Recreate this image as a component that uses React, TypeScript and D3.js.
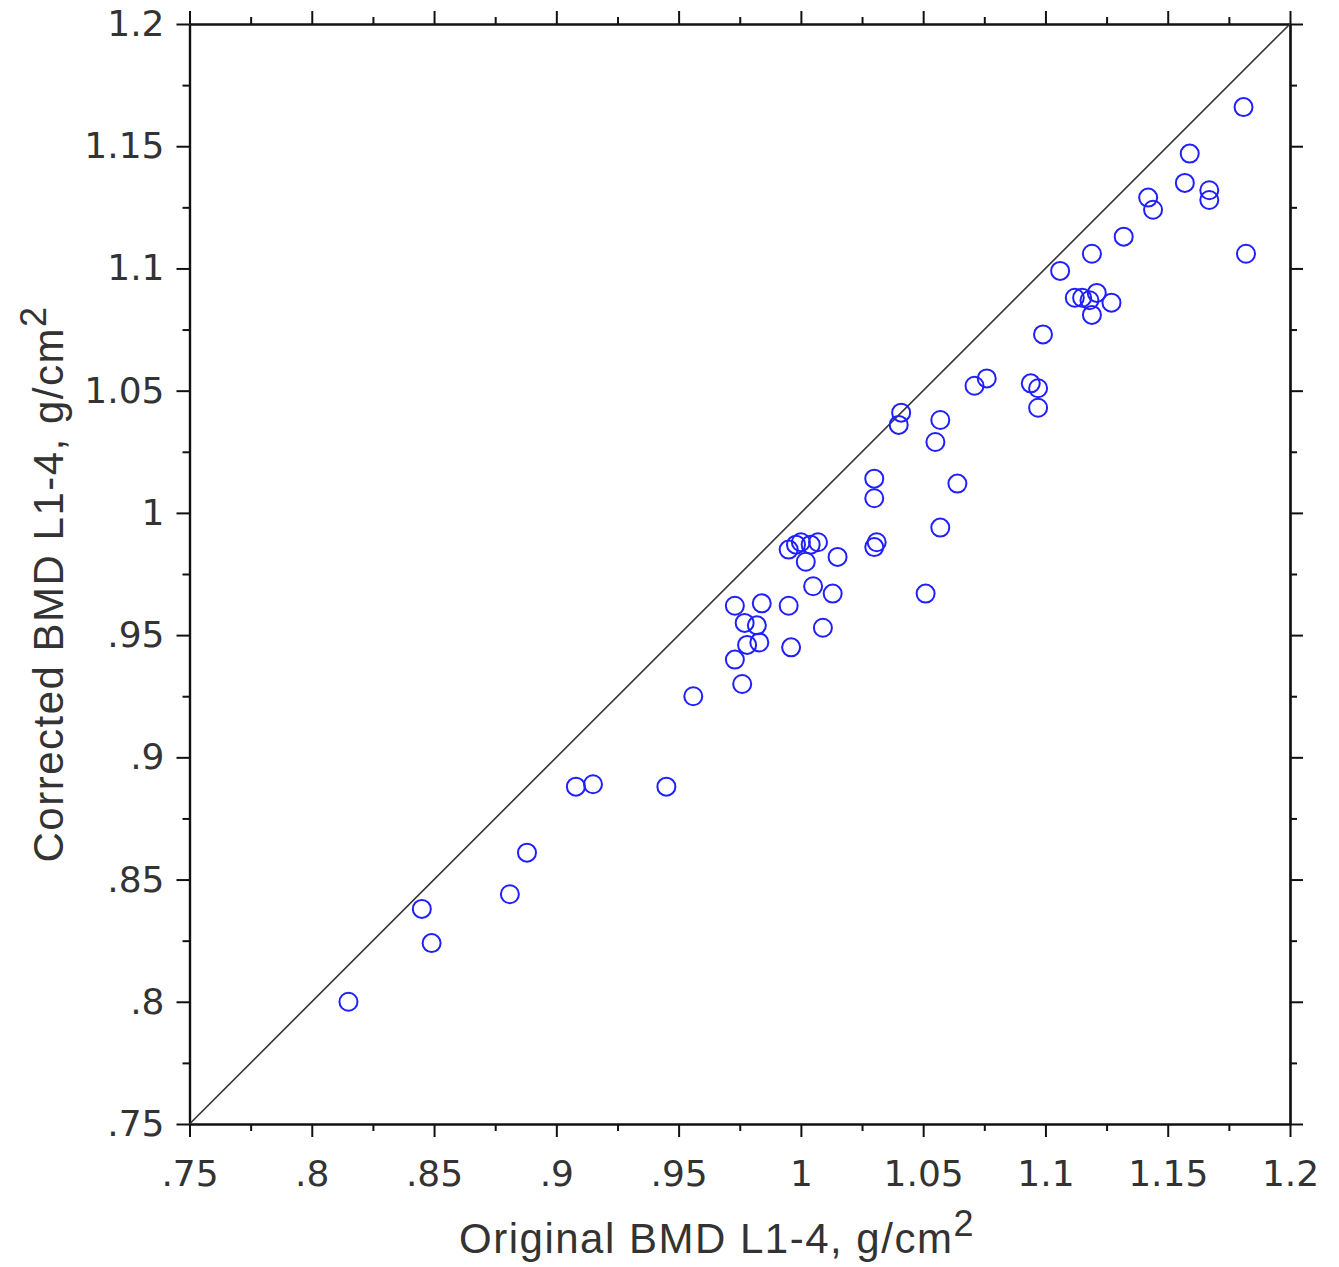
import React, { useEffect, useRef } from "react";
import * as d3 from "d3";

// original vs corrected BMD
const originalBmd = [
  0.815, 0.845, 0.849, 0.881, 0.888, 0.908, 0.915, 0.945, 0.956, 0.973,
  0.973, 0.976, 0.977, 0.978, 0.982, 0.983, 0.984, 0.995, 0.996, 0.995,
  0.998, 1.0, 1.004, 1.007, 1.002, 1.015, 1.005, 1.013, 1.009, 1.03,
  1.031, 1.03, 1.03, 1.04, 1.041, 1.051, 1.055, 1.057, 1.057, 1.064,
  1.071, 1.076, 1.094, 1.097, 1.097, 1.099, 1.106, 1.112, 1.115, 1.118,
  1.121, 1.119, 1.119, 1.127, 1.132, 1.142, 1.144, 1.157, 1.159, 1.167,
  1.167, 1.181, 1.182,
];
const correctedBmd = [
  0.8, 0.838, 0.824, 0.844, 0.861, 0.888, 0.889, 0.888, 0.925, 0.962,
  0.94, 0.93, 0.955, 0.946, 0.954, 0.947, 0.963, 0.962, 0.945, 0.985,
  0.987, 0.988, 0.987, 0.988, 0.98, 0.982, 0.97, 0.967, 0.953, 0.986,
  0.988, 1.006, 1.014, 1.036, 1.041, 0.967, 1.029, 1.038, 0.994, 1.012,
  1.052, 1.055, 1.053, 1.051, 1.043, 1.073, 1.099, 1.088, 1.088, 1.087,
  1.09, 1.081, 1.106, 1.086, 1.113, 1.129, 1.124, 1.135, 1.147, 1.132,
  1.128, 1.166, 1.106,
];

const majorTicks = [0.75, 0.8, 0.85, 0.9, 0.95, 1, 1.05, 1.1, 1.15, 1.2];
const tickLabels = [".75", ".8", ".85", ".9", ".95", "1", "1.05", "1.1", "1.15", "1.2"];
const minorTicks = [0.775, 0.825, 0.875, 0.925, 0.975, 1.025, 1.075, 1.125, 1.175];

const W = 1339;
const H = 1267;
const left = 189.5;
const right = 1290;
const top = 24;
const bottom = 1124;

export default function App() {
  const ref = useRef<SVGSVGElement>(null);

  useEffect(() => {
    const svg = d3.select(ref.current);
    svg.selectAll("*").remove();

    const x = d3.scaleLinear().domain([0.75, 1.2]).range([left, right]);
    const y = d3.scaleLinear().domain([0.75, 1.2]).range([bottom, top]);
    const fmt = (d: any) => tickLabels[majorTicks.indexOf(d)] ?? "";

    const styleAxis = (g: any) => {
      g.selectAll("path").attr("stroke", "#111").attr("stroke-width", 2.2);
      g.selectAll("line").attr("stroke", "#111").attr("stroke-width", 2);
      g.selectAll("text")
        .attr("fill", "#333")
        .style("font-family", "'DejaVu Sans', sans-serif")
        .style("font-size", "36px");
    };

    // bottom
    svg.append("g").attr("transform", `translate(0,${bottom})`)
      .call(d3.axisBottom(x).tickValues(majorTicks).tickFormat(fmt).tickSize(13).tickSizeOuter(0).tickPadding(23))
      .call(styleAxis);
    svg.append("g").attr("transform", `translate(0,${bottom})`)
      .call(d3.axisBottom(x).tickValues(minorTicks).tickFormat(() => "").tickSize(7).tickSizeOuter(0))
      .call(styleAxis);
    // left
    svg.append("g").attr("transform", `translate(${left},0)`)
      .call(d3.axisLeft(y).tickValues(majorTicks).tickFormat(fmt).tickSize(13).tickSizeOuter(0).tickPadding(12))
      .call(styleAxis);
    svg.append("g").attr("transform", `translate(${left},0)`)
      .call(d3.axisLeft(y).tickValues(minorTicks).tickFormat(() => "").tickSize(7).tickSizeOuter(0))
      .call(styleAxis);
    // top
    svg.append("g").attr("transform", `translate(0,${top})`)
      .call(d3.axisTop(x).tickValues(majorTicks).tickFormat(() => "").tickSize(13).tickSizeOuter(0))
      .call(styleAxis);
    svg.append("g").attr("transform", `translate(0,${top})`)
      .call(d3.axisTop(x).tickValues(minorTicks).tickFormat(() => "").tickSize(7).tickSizeOuter(0))
      .call(styleAxis);
    // right
    svg.append("g").attr("transform", `translate(${right},0)`)
      .call(d3.axisRight(y).tickValues(majorTicks).tickFormat(() => "").tickSize(13).tickSizeOuter(0))
      .call(styleAxis);
    svg.append("g").attr("transform", `translate(${right},0)`)
      .call(d3.axisRight(y).tickValues(minorTicks).tickFormat(() => "").tickSize(7).tickSizeOuter(0))
      .call(styleAxis);

    // identity line
    svg.append("line")
      .attr("x1", x(0.75)).attr("y1", y(0.75))
      .attr("x2", x(1.2)).attr("y2", y(1.2))
      .attr("stroke", "#333").attr("stroke-width", 1.6);

    svg.append("g")
      .selectAll("circle")
      .data(originalBmd.map((v, i) => [v, correctedBmd[i]]))
      .join("circle")
      .attr("cx", (d) => x(d[0]))
      .attr("cy", (d) => y(d[1]))
      .attr("r", 9)
      .attr("fill", "none")
      .attr("stroke", "#1f1fff")
      .attr("stroke-width", 2);

    // axis titles
    const xt = svg.append("text")
      .attr("x", 717).attr("y", 1253)
      .attr("text-anchor", "middle")
      .attr("fill", "#333")
      .style("font-family", "'Liberation Sans', Arial, sans-serif")
      .style("font-size", "42px")
      .style("letter-spacing", "1.5px");
    xt.append("tspan").text("Original BMD L1-4, g/cm");
    xt.append("tspan").attr("dy", -17).style("font-size", "36px").text("2");

    const yt = svg.append("text")
      .attr("transform", `translate(63,584) rotate(-90)`)
      .attr("text-anchor", "middle")
      .attr("fill", "#333")
      .style("font-family", "'Liberation Sans', Arial, sans-serif")
      .style("font-size", "42px")
      .style("letter-spacing", "1.5px");
    yt.append("tspan").text("Corrected BMD L1-4, g/cm");
    yt.append("tspan").attr("dy", -17).style("font-size", "36px").text("2");
  }, []);

  return (
    <svg
      ref={ref}
      width={W}
      height={H}
      style={{ position: "absolute", left: 0, top: 0, background: "#fff" }}
    />
  );
}
